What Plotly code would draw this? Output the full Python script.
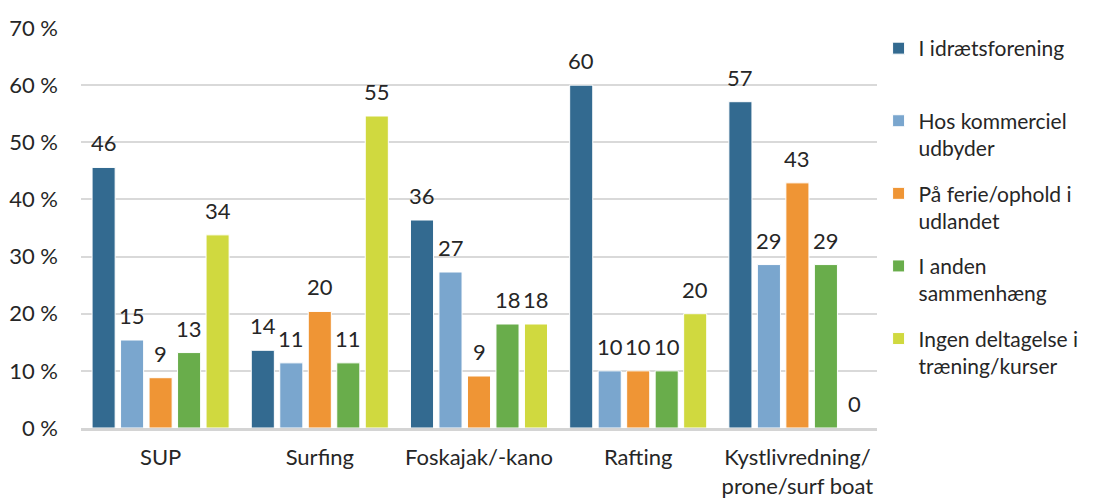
import plotly.graph_objects as go

categories = ["SUP", "Surfing", "Foskajak/-kano", "Rafting", "Kystlivredning/<br>prone/surf boat"]
series_names = [
    "I idrætsforening<br> ",
    "Hos kommerciel<br>udbyder",
    "På ferie/ophold i<br>udlandet",
    "I anden<br>sammenhæng",
    "Ingen deltagelse i<br>træning/kurser",
]
idraet = [45.6, 13.6, 36.4, 60.0, 57.1]
kommerciel = [15.4, 11.4, 27.3, 10.0, 28.6]
ferie = [8.8, 20.4, 9.1, 10.0, 42.9]
anden = [13.2, 11.4, 18.2, 10.0, 28.6]
ingen = [33.8, 54.6, 18.2, 20.0, 0.0]
colors = ["#336a90", "#7aa6ce", "#ef9535", "#69ad4b", "#d0d93f"]

all_values = [idraet, kommerciel, ferie, anden, ingen]
font = "Lato"
fsize = 22
bargap = 0.105

fig = go.Figure()
for name, vals, col in zip(series_names, all_values, colors):
    fig.add_trace(go.Bar(
        x=categories, y=vals, name=name, legendgroup=name,
        marker=dict(color=col, line=dict(color="white", width=1)),
    ))

# data labels above each bar
slot = (1 - bargap) / len(all_values)
annotations = []
for si, vals in enumerate(all_values):
    for ci, v in enumerate(vals):
        annotations.append(dict(
            x=ci + (si - 2) * slot, y=v, xref="x", yref="y",
            text=f"{v:.0f}", showarrow=False, yanchor="bottom", yshift=9,
            font=dict(family=font, size=fsize, color="#262626"),
        ))

# page body has an 8px margin, so the figure is sized to fit the window
fig.update_layout(
    width=1086, height=490,
    margin=dict(l=73, r=217, t=20, b=70, autoexpand=False),
    paper_bgcolor="white", plot_bgcolor="white",
    barmode="group", bargap=bargap, bargroupgap=0.19,
    font=dict(family=font, size=fsize, color="#262626"),
    annotations=annotations,
    legend=dict(
        x=1.002, xanchor="left", y=1.0, yanchor="top",
        valign="top", tracegroupgap=15, maxheight=480,
        font=dict(family=font, size=21, color="#262626"),
    ),
)
fig.update_yaxes(
    range=[0, 70], dtick=10, ticksuffix=" %",
    showgrid=True, gridcolor="#d9d9d9", gridwidth=1.5,
    zeroline=False, ticklabelstandoff=22, automargin=False,
)
fig.update_xaxes(
    showline=True, linecolor="#d4d4d4", linewidth=3,
    ticklabelstandoff=8, automargin=False,
)

fig.write_html("out.html")
